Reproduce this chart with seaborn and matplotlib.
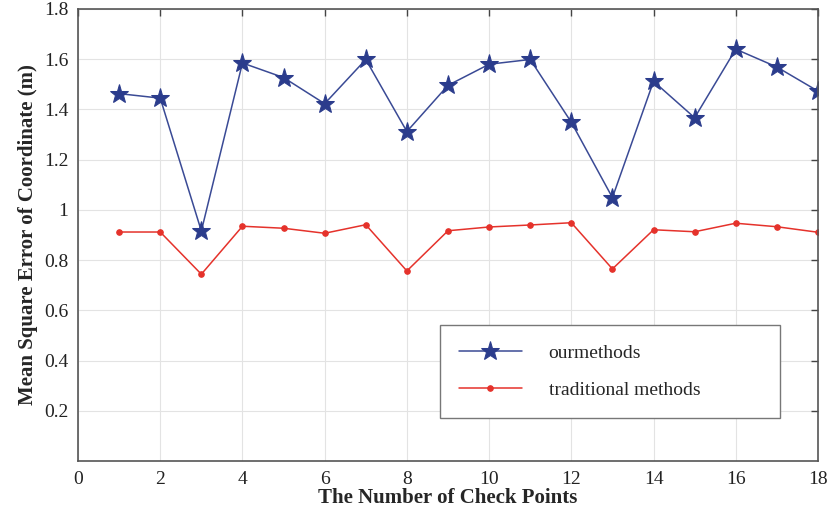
import numpy as np
import pandas as pd
import seaborn as sns
import matplotlib.pyplot as plt

# data
check_points = list(range(1, 19))
our_methods = [1.463, 1.445, 0.916, 1.585, 1.527, 1.423, 1.599, 1.312, 1.496,
               1.580, 1.599, 1.349, 1.049, 1.512, 1.367, 1.640, 1.569, 1.473]
traditional_methods = [0.912, 0.912, 0.744, 0.935, 0.927, 0.907, 0.941, 0.757, 0.917,
                       0.932, 0.940, 0.949, 0.765, 0.921, 0.913, 0.947, 0.933, 0.911]

df = pd.DataFrame({'point': check_points, 'ours': our_methods, 'trad': traditional_methods})

sns.set_style('whitegrid')
plt.rcParams['font.family'] = ['Liberation Serif', 'DejaVu Serif']

fig = plt.figure(figsize=(8.3, 5.14), dpi=100)
ax = fig.add_axes([0.094, 0.103, 0.8915, 0.8795])

sns.lineplot(data=df, x='point', y='ours', ax=ax, color='#3a4a95', lw=1.1,
             marker='*', markersize=14, markerfacecolor='#2b3c8c',
             markeredgecolor='#2b3c8c', label='ourmethods')
sns.lineplot(data=df, x='point', y='trad', ax=ax, color='#e5322b', lw=1.1,
             marker='o', markersize=4, markerfacecolor='#e5322b',
             markeredgecolor='#e5322b', label='traditional methods')

ax.set_xlim(0, 18)
ax.set_ylim(0, 1.8)
ax.set_xticks(range(0, 19, 2))
ax.set_yticks([0.2, 0.4, 0.6, 0.8, 1.0, 1.2, 1.4, 1.6, 1.8])
ax.set_yticklabels(['0.2', '0.4', '0.6', '0.8', '1', '1.2', '1.4', '1.6', '1.8'])
ax.grid(True, color='#e3e3e3', lw=0.8)
ax.tick_params(direction='in', length=5, width=1, colors='#444444',
               top=True, right=True, labelsize=14, labelcolor='#222222', pad=7)
for s in ax.spines.values():
    s.set_color('#555555')
    s.set_linewidth(1.2)

ax.set_xlabel('The Number of Check Points', fontsize=15, fontweight='bold',
              fontstretch='condensed', labelpad=0)
ax.set_ylabel('Mean Square Error of Coordinate (m)', fontsize=15, fontweight='bold',
              fontstretch='condensed', labelpad=4)

leg = ax.legend(loc='lower left', bbox_to_anchor=(0.489, 0.095, 0.46, 0.2), mode='expand',
                borderaxespad=0, fancybox=False, framealpha=1, edgecolor='#777777',
                fontsize=14, borderpad=1.0, labelspacing=1.0, handlelength=3.2,
                handletextpad=1.4)
leg.get_frame().set_linewidth(1.0)

fig.savefig('out.png', dpi=100)
